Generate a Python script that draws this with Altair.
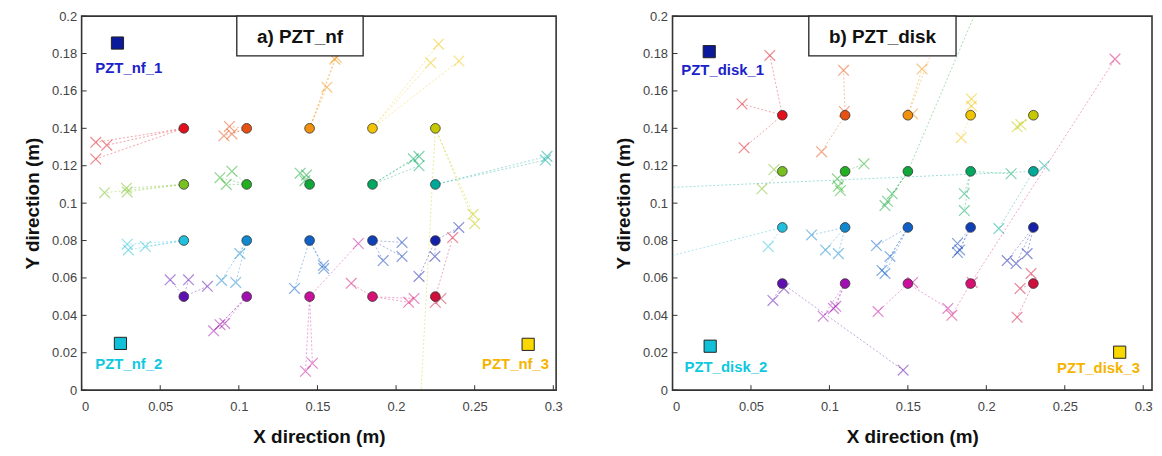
import altair as alt
import pandas as pd

# ---------------- data ----------------
colors = ["#e0101c", "#e65012", "#f0900c", "#f2c400", "#c4c800",
          "#78c020", "#22b022", "#10a838", "#00a860", "#00a89a",
          "#20c0dc", "#1088d0", "#1060c8", "#1040b8", "#1420a8",
          "#6010b0", "#a010b0", "#c8109c", "#d81074", "#d0103c"]

nf_cols = [0.065, 0.105, 0.145, 0.185, 0.225]
nf_rows = [0.14, 0.11, 0.08, 0.05]
disk_cols = [0.07, 0.11, 0.15, 0.19, 0.23]
disk_rows = [0.147, 0.117, 0.087, 0.057]

# crosses: index of reference point, x, y
nf_idx = [0, 0, 0, 1, 1, 1, 2, 2, 2, 3, 3, 3, 4, 4, 4,
          5, 5, 5, 6, 6, 6, 7, 7, 7, 8, 8, 8, 9, 9,
          10, 10, 10, 11, 11, 11, 12, 12, 12, 13, 13, 13, 14, 14, 14,
          15, 15, 15, 16, 16, 16, 17, 17, 17, 18, 18, 18, 19, 19, 19]
nf_x = [0.009, 0.016, 0.009, 0.094, 0.0905, 0.0956, 0.156, 0.161, 0.162, 0.222, 0.227, 0.240, 0.249, 0.250, 0.212,
        0.0146, 0.0285, 0.029, 0.088, 0.0956, 0.092, 0.139, 0.143, 0.142, 0.211, 0.2146, 0.2146, 0.296, 0.295,
        0.029, 0.0297, 0.0405, 0.1006, 0.089, 0.098, 0.1538, 0.154, 0.1354, 0.2038, 0.2038, 0.1918, 0.2247, 0.2146, 0.2399,
        0.0563, 0.068, 0.080, 0.084, 0.088, 0.091, 0.1424, 0.1468, 0.176, 0.1715, 0.208, 0.2114, 0.2285, 0.236, 0.225]
nf_y = [0.1325, 0.131, 0.1236, 0.141, 0.136, 0.137, 0.162, 0.177, 0.178, 0.175, 0.185, 0.176, 0.094, 0.089, -0.06,
        0.1056, 0.108, 0.106, 0.1136, 0.117, 0.110, 0.116, 0.115, 0.112, 0.1237, 0.125, 0.120, 0.125, 0.123,
        0.078, 0.075, 0.0768, 0.073, 0.0587, 0.0576, 0.0667, 0.065, 0.0544, 0.079, 0.0715, 0.0693, 0.0715, 0.0608, 0.087,
        0.059, 0.059, 0.0555, 0.0317, 0.035, 0.0357, 0.0101, 0.0144, 0.0784, 0.0571, 0.047, 0.049, 0.049, 0.0816, 0.047]

disk_idx = [0, 0, 0, 1, 1, 1, 2, 2, 2, 3, 3, 3, 4, 4,
            5, 5, 6, 6, 6, 6, 7, 7, 7, 7, 8, 8, 8, 9, 9, 9,
            10, 10, 11, 11, 11, 12, 12, 12, 12, 13, 13, 13, 14, 14, 14,
            15, 15, 15, 16, 16, 16, 17, 17, 17, 18, 18, 18, 19, 19, 19]
disk_x = [0.062, 0.0443, 0.0456, 0.109, 0.1095, 0.095, 0.159, 0.172, 0.153, 0.1905, 0.1905, 0.184, 0.2196, 0.222,
          0.0646, 0.057, 0.105, 0.1057, 0.107, 0.122, 0.140, 0.1354, 0.137, 0.215, 0.186, 0.186, 0.2158, 0.237, 0.208, -0.2,
          0.061, -0.1, 0.0886, 0.0975, 0.1057, 0.130, 0.1386, 0.1335, 0.1354, 0.1816, 0.1816, 0.183, 0.2133, 0.219, 0.226,
          0.064, 0.071, 0.147, 0.096, 0.1026, 0.104, 0.131, 0.1755, 0.153, 0.178, 0.191, 0.282, 0.2285, 0.2215, 0.2196]
disk_y = [0.179, 0.153, 0.1296, 0.171, 0.149, 0.1275, 0.1717, 0.196, 0.1477, 0.1557, 0.152, 0.135, 0.1408, 0.142,
          0.118, 0.1077, 0.113, 0.109, 0.1067, 0.121, 0.105, 0.0987, 0.101, 0.245, 0.105, 0.096, 0.1157, 0.120, 0.0864, 0.101,
          0.0768, 0.0506, 0.083, 0.075, 0.073, 0.0773, 0.0715, 0.064, 0.0624, 0.0784, 0.0736, 0.075, 0.0693, 0.0677, 0.073,
          0.048, 0.0544, 0.0107, 0.0395, 0.0437, 0.0448, 0.042, 0.0437, 0.0576, 0.040, 0.0576, 0.177, 0.0624, 0.0544, 0.039]

nf_sensor_names = ["PZT_nf_1", "PZT_nf_2", "PZT_nf_3"]
nf_sensor_x = [0.0228, 0.0247, 0.284]
nf_sensor_y = [0.1856, 0.025, 0.0245]
nf_label_x = [0.030, 0.030, 0.276]
nf_label_y = [0.172, 0.0139, 0.0139]

disk_sensor_names = ["PZT_disk_1", "PZT_disk_2", "PZT_disk_3"]
disk_sensor_x = [0.0234, 0.024, 0.285]
disk_sensor_y = [0.181, 0.0235, 0.0203]
disk_label_x = [0.032, 0.034, 0.2715]
disk_label_y = [0.171, 0.0123, 0.012]

sensor_fill = ["#0a1a9a", "#10c0d8", "#f8d800"]
sensor_text = ["#1a22c8", "#10c8e0", "#f5b400"]

x_ticks = [0, 0.05, 0.1, 0.15, 0.2, 0.25, 0.3]
y_ticks = [0, 0.02, 0.04, 0.06, 0.08, 0.1, 0.12, 0.14, 0.16, 0.18, 0.2]

FONT = "Liberation Sans"
XPATH = "M -1 -1 L 1 1 M -1 1 L 1 -1"


def panel(cols, rows, idx, xs, ys, snames, sx, sy, lx, ly, xmax, width, height, title, box):
    cx = [c for r in rows for c in cols]
    cy = [r for r in rows for c in cols]
    pts = pd.DataFrame({"x": cx, "y": cy, "col": colors})
    cr = pd.DataFrame({
        "x0": [cx[i] for i in idx], "y0": [cy[i] for i in idx],
        "x1": xs, "y1": ys, "col": [colors[i] for i in idx]})
    sens = pd.DataFrame({"x": sx, "y": sy, "lx": lx, "ly": ly, "name": snames,
                         "fill": sensor_fill, "tcol": sensor_text})
    xt = pd.DataFrame({"t": x_ticks})
    yt = pd.DataFrame({"t": y_ticks})
    one = pd.DataFrame({"title": [title]})

    xs_ = alt.Scale(domain=[0, xmax], nice=False, zero=False)
    ys_ = alt.Scale(domain=[0, 0.2], nice=False, zero=False)
    xaxis = alt.Axis(values=x_ticks, format="~g", title="X direction (m)", grid=False,
                     ticks=False, tickSize=0, domain=False, labelPadding=10, titlePadding=15)
    yaxis = alt.Axis(values=y_ticks, format="~g", title="Y direction (m)", grid=False,
                     ticks=False, tickSize=0, domain=False, labelPadding=5, titlePadding=9)

    def X(f):
        return alt.X(f, scale=xs_, axis=xaxis)

    def Y(f):
        return alt.Y(f, scale=ys_, axis=yaxis)

    lines = alt.Chart(cr).mark_rule(strokeDash=[2, 2], strokeWidth=1, opacity=0.38, clip=True).encode(
        x=X("x0:Q"), y=Y("y0:Q"), x2="x1:Q", y2="y1:Q",
        color=alt.Color("col:N", scale=None))
    crosses = alt.Chart(cr).mark_point(shape=XPATH, size=115, strokeWidth=1.2, opacity=0.5,
                                       filled=False, clip=True).encode(
        x=X("x1:Q"), y=Y("y1:Q"), color=alt.Color("col:N", scale=None))
    circles = alt.Chart(pts).mark_point(shape="circle", filled=True, size=95, stroke="#333333",
                                        strokeWidth=0.8, opacity=1).encode(
        x=X("x:Q"), y=Y("y:Q"), fill=alt.Fill("col:N", scale=None))
    squares = alt.Chart(sens).mark_point(shape="square", filled=True, size=150, stroke="#222222",
                                         strokeWidth=1, opacity=1).encode(
        x=X("x:Q"), y=Y("y:Q"), fill=alt.Fill("fill:N", scale=None))
    labels = alt.Chart(sens).mark_text(font=FONT, fontSize=15, fontWeight="bold").encode(
        x=X("lx:Q"), y=Y("ly:Q"), text="name:N", color=alt.Color("tcol:N", scale=None))
    xtk = alt.Chart(xt).mark_rule(color="#333333", strokeWidth=1).encode(
        x=X("t:Q"), y=alt.value(height), y2=alt.value(height - 5))
    ytk = alt.Chart(yt).mark_rule(color="#333333", strokeWidth=1).encode(
        y=Y("t:Q"), x=alt.value(0), x2=alt.value(5))
    brect = alt.Chart(one).mark_rect(fill="white", stroke="#222222", strokeWidth=1.3).encode(
        x=alt.value(box[0]), x2=alt.value(box[1]), y=alt.value(0), y2=alt.value(40))
    btext = alt.Chart(one).mark_text(font=FONT, fontSize=19, fontWeight="bold", color="#111111").encode(
        x=alt.value((box[0] + box[1]) / 2), y=alt.value(21), text="title:N")
    return alt.layer(lines, crosses, circles, squares, labels, xtk, ytk, brect, btext).properties(
        width=width, height=height)


left = panel(nf_cols, nf_rows, nf_idx, nf_x, nf_y, nf_sensor_names, nf_sensor_x, nf_sensor_y,
             nf_label_x, nf_label_y, 0.3018, 477, 376, "a) PZT_nf", (156, 283))
right = panel(disk_cols, disk_rows, disk_idx, disk_x, disk_y, disk_sensor_names, disk_sensor_x,
              disk_sensor_y, disk_label_x, disk_label_y, 0.3056, 482, 376, "b) PZT_disk", (137, 285))

chart = alt.hconcat(left, right, spacing=50).properties(
    padding={"left": 14, "top": 0, "right": 0, "bottom": 0},
    background="white"
).configure_view(
    stroke="#333333", strokeWidth=1.6
).configure_axis(
    labelFont=FONT, labelFontSize=13, labelColor="#444444",
    titleFont=FONT, titleFontSize=19, titleFontWeight="bold", titleColor="#111111"
)

chart.save("out.html", embed_options={"renderer": "svg", "actions": False})
